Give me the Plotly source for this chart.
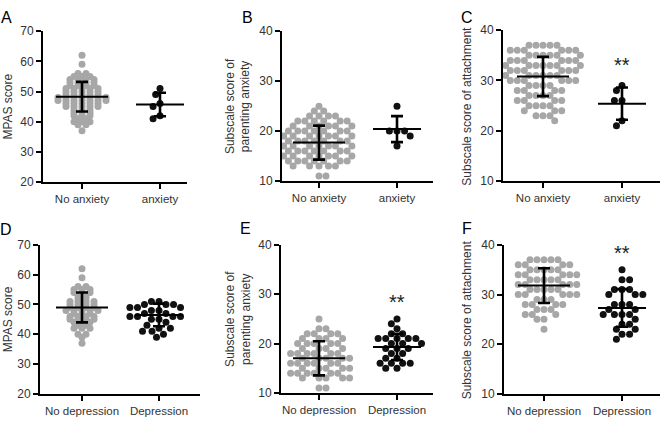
import numpy as np
import plotly.graph_objects as go
from plotly.subplots import make_subplots

W, H = 662, 425

# ---- données (score : nombre de points) ----
# A : score MPAS, anxiete
a_no_vals = [62, 59, 56, 55, 54, 53, 52, 51, 50, 49, 48, 47, 46, 45, 44, 43, 42, 41, 40, 39, 37]
a_no_cnts = [1, 1, 2, 3, 4, 4, 4, 5, 5, 5, 7, 7, 5, 5, 3, 3, 3, 2, 3, 2, 1]
a_yes = [51, 49, 46, 45, 42, 41]

# B : sous-score anxiete parentale, anxiete
b_no_vals = [25, 24, 23, 22, 21, 20, 19, 18, 17, 16, 15, 14, 13, 11]
b_no_cnts = [1, 2, 4, 6, 6, 7, 7, 7, 7, 7, 7, 7, 5, 2]
b_yes = [25, 20, 20, 20, 19, 17]

# C : sous-score attachement, anxiete
c_no_vals = [37, 36, 35, 34, 33, 32, 31, 30, 29, 28, 27, 26, 25, 24, 23, 22]
c_no_cnts = [5, 6, 6, 6, 7, 6, 6, 6, 4, 4, 4, 4, 4, 3, 3, 1]
c_yes = [29, 28, 26, 26, 22, 21]

# D : score MPAS, depression
d_no_vals = [62, 59, 56, 55, 54, 53, 52, 51, 50, 49, 48, 47, 46, 45, 44, 43, 42, 40, 39, 37]
d_no_cnts = [1, 1, 2, 3, 3, 2, 2, 4, 4, 4, 5, 3, 4, 4, 3, 2, 3, 2, 1, 1]
d_yes_vals = [51, 50, 49, 48, 47, 46, 45, 44, 43, 42, 41, 40, 39]
d_yes_cnts = [2, 3, 3, 2, 2, 4, 2, 1, 1, 2, 2, 1, 1]

# E : sous-score anxiete parentale, depression
e_no_vals = [25, 23, 22, 21, 20, 19, 18, 17, 16, 15, 14, 13, 11]
e_no_cnts = [1, 2, 4, 4, 5, 4, 6, 5, 6, 5, 6, 5, 2]
e_yes_vals = [25, 24, 23, 22, 21, 20, 19, 18, 17, 16, 15]
e_yes_cnts = [1, 1, 1, 2, 5, 3, 3, 2, 2, 4, 2]

# F : sous-score attachement, depression
f_no_vals = [37, 36, 35, 34, 33, 32, 31, 30, 29, 28, 27, 26, 25, 23]
f_no_cnts = [5, 4, 5, 5, 5, 5, 5, 5, 3, 4, 3, 3, 2, 1]
f_yes_vals = [35, 33, 31, 30, 28, 27, 26, 25, 24, 23, 22, 21]
f_yes_cnts = [1, 2, 3, 3, 3, 2, 4, 1, 2, 2, 2, 1]

means = {"A": [48.3, 45.7], "B": [17.7, 20.4], "C": [30.8, 25.4],
         "D": [49.0, 46.5], "E": [17.0, 19.3], "F": [31.8, 27.3]}
sds = {"A": [4.9, 3.9], "B": [3.4, 2.6], "C": [3.9, 3.2],
       "D": [5.0, 3.8], "E": [3.45, 2.65], "F": [3.5, 3.8]}

anx_labels = ["No anxiety", "anxiety"]
dep_labels = ["No depression", "Depression"]
y_titles = {"A": "MPAS score", "B": "Subscale score of<br>parenting anxiety",
            "C": "Subscale score of attachment", "D": "MPAS score",
            "E": "Subscale score of<br>parenting anxiety", "F": "Subscale score of attachment"}
y_ranges = {"A": [20, 70], "B": [10, 40], "C": [10, 40], "D": [20, 70], "E": [10, 40], "F": [10, 40]}


def expand(vals, cnts):
    return list(np.repeat(vals, cnts))


groups = {
    "A": (expand(a_no_vals, a_no_cnts), a_yes, anx_labels),
    "B": (expand(b_no_vals, b_no_cnts), b_yes, anx_labels),
    "C": (expand(c_no_vals, c_no_cnts), c_yes, anx_labels),
    "D": (expand(d_no_vals, d_no_cnts), expand(d_yes_vals, d_yes_cnts), dep_labels),
    "E": (expand(e_no_vals, e_no_cnts), expand(e_yes_vals, e_yes_cnts), dep_labels),
    "F": (expand(f_no_vals, f_no_cnts), expand(f_yes_vals, f_yes_cnts), dep_labels),
}

# boites des panneaux en pixels : x0, x1, y haut, y bas, tick1, tick2
boxes = {
    "A": (43, 187, 25, 181, 82, 160),
    "B": (282, 433, 25, 180, 319, 397),
    "C": (503, 660, 24, 180, 543, 622),
    "D": (40, 200, 246, 400, 82, 159),
    "E": (281, 433, 246, 399, 319, 397),
    "F": (504, 660, 246, 400, 544, 622),
}
letter_pos = {"A": (6, 11), "B": (247, 11), "C": (467, 11),
              "D": (6, 230), "E": (245, 229), "F": (467, 229)}
title_x = {"A": 8, "B": 238, "C": 467, "D": 8, "E": 238, "F": 467}
stars = {"C": (622, 60), "E": (397, 305), "F": (622, 254)}
# A et D (echelle serree) : lignes centrees facon Prism ; sinon beeswarm
use_rows = {"A": True, "B": False, "C": False, "D": True, "E": False, "F": False}

GRAY = "#a7a7a7"
BLACK = "#111111"
FONT = "Liberation Sans, Arial, sans-serif"


def swarm(values, ppy, diam):
    # beeswarm : chaque point au plus pres du centre sans chevauchement (en pixels)
    ys = np.array(values, dtype=float) * ppy
    order = np.argsort(-ys, kind="stable")
    placed = []
    xs = np.zeros(len(ys))
    flip = 1
    for i in order:
        y = ys[i]
        cands = [0.0]
        for px, py in placed:
            dy = abs(py - y)
            if dy < diam:
                dx = np.sqrt(diam ** 2 - dy ** 2)
                cands += [px - dx, px + dx]
        cands.sort(key=lambda c: (round(abs(c), 3), -flip * c))
        for cx in cands:
            ok = all((cx - px) ** 2 + (y - py) ** 2 >= diam ** 2 - 1e-6 for px, py in placed)
            if ok:
                xs[i] = cx
                placed.append((cx, y))
                flip = -flip
                break
    return xs


def rows(values, spacing):
    # une ligne centree par valeur
    values = np.array(values)
    xs = np.zeros(len(values))
    for v in np.unique(values):
        idx = np.where(values == v)[0]
        n = len(idx)
        xs[idx] = (np.arange(n) - (n - 1) / 2) * spacing
    return xs


fig = make_subplots(rows=2, cols=3)
annotations = []

for i, key in enumerate(["A", "B", "C", "D", "E", "F"]):
    r, c = i // 3 + 1, i % 3 + 1
    x0, x1, yt, yb, t1, t2 = boxes[key]
    ppu = t2 - t1
    ppy = (yb - yt) / (y_ranges[key][1] - y_ranges[key][0])
    xr = [1 - (t1 - x0) / ppu, 2 + (x1 - t2) / ppu]
    no_vals, yes_vals, labels = groups[key]

    for g, (vals, col) in enumerate([(no_vals, GRAY), (yes_vals, BLACK)]):
        if g == 0 and use_rows[key]:
            off = rows(vals, 8.0)
        elif g == 0:
            off = swarm(vals, ppy, 7.0)
        else:
            off = swarm(vals, ppy, 7.6)
        fig.add_trace(go.Scatter(x=g + 1 + off / ppu, y=vals, mode="markers",
                                 marker=dict(size=7, color=col, line=dict(width=0)),
                                 showlegend=False, hoverinfo="y"), row=r, col=c)

    for g in range(2):
        m, s = means[key][g], sds[key][g]
        half = (26 if g == 0 else 24) / ppu
        fig.add_trace(go.Scatter(x=[g + 1 - half, g + 1 + half], y=[m, m], mode="lines",
                                 line=dict(color="black", width=2),
                                 showlegend=False, hoverinfo="skip"), row=r, col=c)
        fig.add_trace(go.Scatter(x=[g + 1], y=[m], mode="markers",
                                 marker=dict(size=1, color="rgba(0,0,0,0)"),
                                 error_y=dict(type="data", array=[s], visible=True,
                                              color="black", thickness=2.6, width=6),
                                 showlegend=False, hoverinfo="skip"), row=r, col=c)

    fig.update_xaxes(domain=[x0 / W, x1 / W], range=xr, tickvals=[1, 2], ticktext=labels,
                     row=r, col=c)
    fig.update_yaxes(domain=[1 - yb / H, 1 - yt / H], range=y_ranges[key], dtick=10,
                     row=r, col=c)

    lx, ly = letter_pos[key]
    annotations.append(dict(text=key, x=lx / W, y=1 - ly / H, xref="paper", yref="paper",
                            showarrow=False, xanchor="center", yanchor="middle",
                            font=dict(size=16, color="black", family=FONT)))
    annotations.append(dict(text=y_titles[key], x=title_x[key] / W, y=1 - (yt + yb) / 2 / H,
                            xref="paper", yref="paper", showarrow=False, textangle=-90,
                            xanchor="center", yanchor="middle",
                            font=dict(size=12, color="#333333", family=FONT)))
    if key in stars:
        sx, sy = stars[key]
        annotations.append(dict(text="**", x=sx / W, y=1 - sy / H, xref="paper", yref="paper",
                                showarrow=False, xanchor="center", yanchor="middle",
                                font=dict(size=20, color="#222222", family=FONT)))

fig.update_xaxes(showline=True, linecolor="black", linewidth=2, showgrid=False, zeroline=False,
                 ticks="outside", ticklen=5, tickwidth=2, tickcolor="black",
                 tickfont=dict(size=11.5, color="#333333", family=FONT))
fig.update_yaxes(showline=True, linecolor="black", linewidth=2, showgrid=False, zeroline=False,
                 ticks="outside", ticklen=5, tickwidth=2, tickcolor="black",
                 tickfont=dict(size=12, color="#333333", family=FONT))

fig.update_layout(width=W, height=H, margin=dict(l=0, r=0, t=0, b=0),
                  plot_bgcolor="white", paper_bgcolor="white",
                  annotations=annotations, showlegend=False)

# la page a une marge de 8px par defaut : on la retire
fig.write_html("out.html", config={"displayModeBar": False},
               post_script="document.body.style.margin='0';")
